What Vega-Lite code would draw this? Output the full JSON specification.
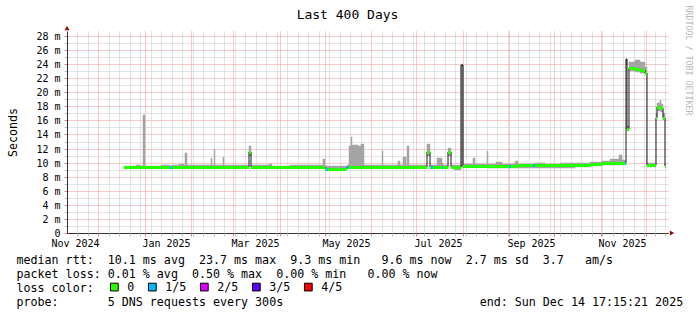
{
  "$schema": "https://vega.github.io/schema/vega-lite/v6.json",
  "width": 601,
  "height": 202,
  "autosize": {"type": "none"},
  "padding": {"left": 67, "top": 31, "right": 29, "bottom": 82},
  "background": "white",
  "config": {"view": {"stroke": null}, "font": "DejaVu Sans Mono"},
  "title": {"text": "Last 400 Days", "font": "DejaVu Sans Mono", "fontSize": 13, "fontWeight": "normal", "color": "#000000", "anchor": "middle", "frame": "group", "dx": -20, "offset": -27, "baseline": "alphabetic"},
  "data": {"values": [
    {"t":"2024-12-18T00:00","t2":"2024-12-22T00:00","med":9.33,"lo":9.2,"hi":9.58,"loss":"0"},
    {"t":"2024-12-22T00:00","t2":"2024-12-26T00:00","med":9.33,"lo":9.2,"hi":9.52,"loss":"0"},
    {"t":"2024-12-26T00:00","t2":"2024-12-29T00:00","med":9.33,"lo":9.2,"hi":9.68,"loss":"0"},
    {"t":"2024-12-29T00:00","t2":"2024-12-31T00:00","med":9.33,"lo":9.2,"hi":9.55,"loss":"0"},
    {"t":"2024-12-31T00:00","t2":"2025-01-01T08:00","med":9.36,"lo":9.2,"hi":16.8,"loss":"0"},
    {"t":"2025-01-01T08:00","t2":"2025-01-06T00:00","med":9.33,"lo":9.2,"hi":9.58,"loss":"0"},
    {"t":"2025-01-06T00:00","t2":"2025-01-12T00:00","med":9.33,"lo":9.2,"hi":9.55,"loss":"0"},
    {"t":"2025-01-12T00:00","t2":"2025-01-18T00:00","med":9.33,"lo":9.2,"hi":9.62,"loss":"0"},
    {"t":"2025-01-18T00:00","t2":"2025-01-19T00:00","med":9.33,"lo":9.2,"hi":9.55,"loss":"1/5"},
    {"t":"2025-01-19T00:00","t2":"2025-01-24T00:00","med":9.33,"lo":9.2,"hi":9.6,"loss":"0"},
    {"t":"2025-01-24T00:00","t2":"2025-01-27T00:00","med":9.35,"lo":9.2,"hi":9.85,"loss":"0"},
    {"t":"2025-01-27T00:00","t2":"2025-01-28T00:00","med":9.35,"lo":9.2,"hi":9.7,"loss":"0"},
    {"t":"2025-01-28T00:00","t2":"2025-01-29T08:00","med":9.38,"lo":9.2,"hi":11.3,"loss":"0"},
    {"t":"2025-01-29T08:00","t2":"2025-02-05T00:00","med":9.4,"lo":9.25,"hi":9.72,"loss":"0"},
    {"t":"2025-02-05T00:00","t2":"2025-02-14T00:00","med":9.4,"lo":9.25,"hi":9.68,"loss":"0"},
    {"t":"2025-02-14T00:00","t2":"2025-02-15T00:00","med":9.4,"lo":9.25,"hi":10.7,"loss":"0"},
    {"t":"2025-02-15T00:00","t2":"2025-02-16T00:00","med":9.4,"lo":9.25,"hi":9.7,"loss":"0"},
    {"t":"2025-02-16T00:00","t2":"2025-02-17T00:00","med":9.4,"lo":9.25,"hi":11.9,"loss":"0"},
    {"t":"2025-02-17T00:00","t2":"2025-02-22T00:00","med":9.4,"lo":9.25,"hi":9.7,"loss":"0"},
    {"t":"2025-02-22T00:00","t2":"2025-02-23T00:00","med":9.4,"lo":9.25,"hi":10.8,"loss":"0"},
    {"t":"2025-02-23T00:00","t2":"2025-03-04T00:00","med":9.38,"lo":9.25,"hi":9.7,"loss":"0"},
    {"t":"2025-03-04T00:00","t2":"2025-03-11T08:00","med":9.35,"lo":9.2,"hi":9.62,"loss":"0"},
    {"t":"2025-03-11T08:00","t2":"2025-03-12T16:00","med":11.55,"lo":11.0,"hi":12.4,"loss":"0"},
    {"t":"2025-03-12T16:00","t2":"2025-03-25T00:00","med":9.33,"lo":9.2,"hi":9.6,"loss":"0"},
    {"t":"2025-03-25T00:00","t2":"2025-03-27T00:00","med":9.33,"lo":9.2,"hi":9.8,"loss":"0"},
    {"t":"2025-03-27T00:00","t2":"2025-04-08T00:00","med":9.33,"lo":9.2,"hi":9.58,"loss":"0"},
    {"t":"2025-04-08T00:00","t2":"2025-04-14T00:00","med":9.33,"lo":9.2,"hi":9.7,"loss":"0"},
    {"t":"2025-04-14T00:00","t2":"2025-04-30T00:00","med":9.33,"lo":9.2,"hi":9.62,"loss":"0"},
    {"t":"2025-04-30T00:00","t2":"2025-05-01T00:00","med":9.33,"lo":9.2,"hi":10.5,"loss":"0"},
    {"t":"2025-05-01T00:00","t2":"2025-05-02T00:00","med":9.1,"lo":8.95,"hi":9.5,"loss":"0"},
    {"t":"2025-05-02T00:00","t2":"2025-05-03T00:00","med":9.1,"lo":8.95,"hi":9.5,"loss":"1/5"},
    {"t":"2025-05-03T00:00","t2":"2025-05-16T00:00","med":9.1,"lo":8.95,"hi":9.5,"loss":"0"},
    {"t":"2025-05-16T00:00","t2":"2025-05-17T00:00","med":9.42,"lo":9.3,"hi":9.6,"loss":"1/5"},
    {"t":"2025-05-17T00:00","t2":"2025-05-18T12:00","med":9.42,"lo":9.3,"hi":12.4,"loss":"0"},
    {"t":"2025-05-18T12:00","t2":"2025-05-19T12:00","med":9.42,"lo":9.3,"hi":13.7,"loss":"0"},
    {"t":"2025-05-19T12:00","t2":"2025-05-23T00:00","med":9.42,"lo":9.3,"hi":12.5,"loss":"0"},
    {"t":"2025-05-23T00:00","t2":"2025-05-25T00:00","med":9.42,"lo":9.3,"hi":12.35,"loss":"0"},
    {"t":"2025-05-25T00:00","t2":"2025-05-27T00:00","med":9.42,"lo":9.3,"hi":12.6,"loss":"0"},
    {"t":"2025-05-27T00:00","t2":"2025-06-08T00:00","med":9.42,"lo":9.3,"hi":9.65,"loss":"0"},
    {"t":"2025-06-08T00:00","t2":"2025-06-09T00:00","med":9.42,"lo":9.3,"hi":11.7,"loss":"0"},
    {"t":"2025-06-09T00:00","t2":"2025-06-19T00:00","med":9.42,"lo":9.3,"hi":9.65,"loss":"0"},
    {"t":"2025-06-19T00:00","t2":"2025-06-20T00:00","med":9.42,"lo":9.3,"hi":10.2,"loss":"0"},
    {"t":"2025-06-20T00:00","t2":"2025-06-22T00:00","med":9.42,"lo":9.3,"hi":9.7,"loss":"0"},
    {"t":"2025-06-22T00:00","t2":"2025-06-24T00:00","med":9.42,"lo":9.3,"hi":10.8,"loss":"0"},
    {"t":"2025-06-24T00:00","t2":"2025-06-25T00:00","med":9.42,"lo":9.3,"hi":9.7,"loss":"0"},
    {"t":"2025-06-25T00:00","t2":"2025-06-26T00:00","med":9.42,"lo":9.3,"hi":12.4,"loss":"0"},
    {"t":"2025-06-26T00:00","t2":"2025-07-08T00:00","med":9.4,"lo":9.25,"hi":9.7,"loss":"0"},
    {"t":"2025-07-08T00:00","t2":"2025-07-10T00:00","med":11.55,"lo":11.0,"hi":12.6,"loss":"0"},
    {"t":"2025-07-10T00:00","t2":"2025-07-11T00:00","med":9.42,"lo":9.3,"hi":9.7,"loss":"0"},
    {"t":"2025-07-11T00:00","t2":"2025-07-12T00:00","med":9.42,"lo":9.3,"hi":9.7,"loss":"1/5"},
    {"t":"2025-07-12T00:00","t2":"2025-07-15T00:00","med":9.42,"lo":9.3,"hi":9.7,"loss":"0"},
    {"t":"2025-07-15T00:00","t2":"2025-07-18T00:00","med":9.42,"lo":9.3,"hi":10.6,"loss":"0"},
    {"t":"2025-07-18T00:00","t2":"2025-07-19T00:00","med":9.42,"lo":9.3,"hi":10.0,"loss":"1/5"},
    {"t":"2025-07-19T00:00","t2":"2025-07-22T00:00","med":9.42,"lo":9.3,"hi":9.7,"loss":"0"},
    {"t":"2025-07-22T00:00","t2":"2025-07-24T12:00","med":11.46,"lo":11.0,"hi":12.1,"loss":"0"},
    {"t":"2025-07-24T12:00","t2":"2025-07-26T00:00","med":9.42,"lo":9.3,"hi":9.7,"loss":"0"},
    {"t":"2025-07-26T00:00","t2":"2025-07-31T00:00","med":9.42,"lo":8.95,"hi":9.7,"loss":"0"},
    {"t":"2025-07-31T00:00","t2":"2025-08-01T08:00","med":23.9,"lo":9.4,"hi":24.0,"loss":null},
    {"t":"2025-08-01T08:00","t2":"2025-08-08T00:00","med":9.56,"lo":9.35,"hi":9.8,"loss":"0"},
    {"t":"2025-08-08T00:00","t2":"2025-08-09T12:00","med":9.56,"lo":9.35,"hi":10.7,"loss":"0"},
    {"t":"2025-08-09T12:00","t2":"2025-08-17T00:00","med":9.56,"lo":9.35,"hi":9.8,"loss":"0"},
    {"t":"2025-08-17T00:00","t2":"2025-08-18T00:00","med":9.56,"lo":9.35,"hi":11.65,"loss":"0"},
    {"t":"2025-08-18T00:00","t2":"2025-08-23T00:00","med":9.56,"lo":9.3,"hi":9.85,"loss":"0"},
    {"t":"2025-08-23T00:00","t2":"2025-08-27T00:00","med":9.56,"lo":9.3,"hi":10.1,"loss":"0"},
    {"t":"2025-08-27T00:00","t2":"2025-09-01T00:00","med":9.56,"lo":9.3,"hi":9.8,"loss":"0"},
    {"t":"2025-09-01T00:00","t2":"2025-09-02T00:00","med":9.56,"lo":9.3,"hi":9.8,"loss":"1/5"},
    {"t":"2025-09-02T00:00","t2":"2025-09-05T00:00","med":9.56,"lo":9.3,"hi":9.8,"loss":"0"},
    {"t":"2025-09-05T00:00","t2":"2025-09-07T00:00","med":9.56,"lo":9.3,"hi":10.2,"loss":"0"},
    {"t":"2025-09-07T00:00","t2":"2025-09-17T00:00","med":9.6,"lo":9.3,"hi":9.85,"loss":"0"},
    {"t":"2025-09-17T00:00","t2":"2025-09-18T00:00","med":9.6,"lo":9.3,"hi":9.85,"loss":"1/5"},
    {"t":"2025-09-18T00:00","t2":"2025-09-25T00:00","med":9.6,"lo":9.2,"hi":9.9,"loss":"0"},
    {"t":"2025-09-25T00:00","t2":"2025-10-05T00:00","med":9.62,"lo":9.25,"hi":9.85,"loss":"0"},
    {"t":"2025-10-05T00:00","t2":"2025-10-15T00:00","med":9.65,"lo":9.3,"hi":9.9,"loss":"0"},
    {"t":"2025-10-15T00:00","t2":"2025-10-25T00:00","med":9.7,"lo":9.4,"hi":9.95,"loss":"0"},
    {"t":"2025-10-25T00:00","t2":"2025-11-02T00:00","med":9.8,"lo":9.5,"hi":10.05,"loss":"0"},
    {"t":"2025-11-02T00:00","t2":"2025-11-07T00:00","med":9.9,"lo":9.6,"hi":10.3,"loss":"0"},
    {"t":"2025-11-07T00:00","t2":"2025-11-13T00:00","med":10.0,"lo":9.7,"hi":10.5,"loss":"0"},
    {"t":"2025-11-13T00:00","t2":"2025-11-15T00:00","med":10.0,"lo":9.7,"hi":11.1,"loss":"0"},
    {"t":"2025-11-15T00:00","t2":"2025-11-17T00:00","med":9.95,"lo":9.7,"hi":10.4,"loss":"0"},
    {"t":"2025-11-17T00:00","t2":"2025-11-18T00:00","med":9.95,"lo":9.7,"hi":10.3,"loss":"1/5"},
    {"t":"2025-11-18T00:00","t2":"2025-11-18T16:00","med":24.7,"lo":23.8,"hi":24.7,"loss":null},
    {"t":"2025-11-18T16:00","t2":"2025-11-19T18:00","med":14.8,"lo":14.5,"hi":15.2,"loss":"0"},
    {"t":"2025-11-19T18:00","t2":"2025-11-24T00:00","med":23.5,"lo":23.0,"hi":24.3,"loss":"0"},
    {"t":"2025-11-24T00:00","t2":"2025-11-27T12:00","med":23.3,"lo":22.9,"hi":24.6,"loss":"0"},
    {"t":"2025-11-27T12:00","t2":"2025-11-30T18:00","med":23.2,"lo":22.8,"hi":24.3,"loss":"0"},
    {"t":"2025-11-30T18:00","t2":"2025-12-01T20:00","med":22.8,"lo":22.6,"hi":23.6,"loss":"0"},
    {"t":"2025-12-01T20:00","t2":"2025-12-07T18:00","med":9.6,"lo":9.4,"hi":10.0,"loss":"0"},
    {"t":"2025-12-07T18:00","t2":"2025-12-08T20:00","med":16.4,"lo":16.0,"hi":17.0,"loss":"0"},
    {"t":"2025-12-08T20:00","t2":"2025-12-10T08:00","med":17.85,"lo":17.3,"hi":18.4,"loss":"0"},
    {"t":"2025-12-10T08:00","t2":"2025-12-11T08:00","med":17.9,"lo":17.4,"hi":18.9,"loss":"0"},
    {"t":"2025-12-11T08:00","t2":"2025-12-12T20:00","med":17.8,"lo":17.2,"hi":18.3,"loss":"0"},
    {"t":"2025-12-12T20:00","t2":"2025-12-13T20:00","med":16.4,"lo":16.0,"hi":17.0,"loss":"0"},
    {"t":"2025-12-13T20:00","t2":"2025-12-14T17:00","med":9.5,"lo":9.3,"hi":9.8,"loss":"0"}
  ]},
  "resolve": {"axis": {"x": "independent", "y": "independent"}},
  "layer": [
    {
      "mark": {"type": "rect", "color": "#a4a4a4", "stroke": "#a4a4a4", "strokeWidth": 0.5},
      "encoding": {
        "x": {"field": "t", "type": "temporal",
          "scale": {"domain": [{"year":2024,"month":11,"date":10,"hours":8},{"year":2025,"month":12,"date":15,"hours":20}], "nice": false, "round": true},
          "axis": {
            "orient": "bottom",
            "values": [
              {"year":2024,"month":11,"date":15,"hours":12},{"year":2025,"month":1,"date":15,"hours":12},{"year":2025,"month":3,"date":15,"hours":12},{"year":2025,"month":5,"date":15,"hours":12},{"year":2025,"month":7,"date":15,"hours":12},{"year":2025,"month":9,"date":15,"hours":12},{"year":2025,"month":11,"date":15,"hours":12}
            ],
            "format": "%b %Y",
            "labelFont": "DejaVu Sans Mono", "labelFontSize": 10, "labelColor": "#000000", "labelPadding": 5.5,
            "labelOverlap": false, "labelFlush": false, "labelBound": false, "labelAngle": 0,
            "grid": false, "ticks": false,
            "domainColor": "#303030",
            "title": [
              "median rtt:\u00a0\u00a010.1 ms avg\u00a0\u00a023.7 ms max\u00a0\u00a09.3 ms min\u00a0\u00a0\u00a09.6 ms now\u00a0\u00a02.7 ms sd\u00a0\u00a03.7\u00a0\u00a0\u00a0am/s",
              "packet loss: 0.01 % avg\u00a0\u00a00.50 % max\u00a0\u00a00.00 % min\u00a0\u00a0\u00a00.00 % now",
              "loss color:",
              "probe:\u00a0\u00a0\u00a0\u00a0\u00a0\u00a0\u00a05 DNS requests every 300s\u00a0\u00a0\u00a0\u00a0\u00a0\u00a0\u00a0\u00a0\u00a0\u00a0\u00a0\u00a0\u00a0\u00a0\u00a0\u00a0\u00a0\u00a0\u00a0\u00a0\u00a0\u00a0\u00a0\u00a0\u00a0\u00a0\u00a0\u00a0end: Sun Dec 14 17:15:21 2025"
            ],
            "titleFont": "DejaVu Sans Mono", "titleFontSize": 11.67, "titleFontWeight": "normal", "titleColor": "#000000",
            "titleAlign": "left", "titleBaseline": "alphabetic", "titleX": -51, "titleY": 30.3, "titleLineHeight": 14
          }
        },
        "x2": {"field": "t2"},
        "y": {"field": "lo", "type": "quantitative",
          "scale": {"domain": [0, 28.7], "nice": false, "zero": false, "round": true},
          "axis": {
            "orient": "left",
            "values": [0,1,2,3,4,5,6,7,8,9,10,11,12,13,14,15,16,17,18,19,20,21,22,23,24,25,26,27,28],
            "labelExpr": "datum.value==0 ? '0' : (datum.value % 2 == 0 ? datum.value + ' m' : '')",
            "labelFont": "DejaVu Sans Mono", "labelFontSize": 10, "labelColor": "#000000", "labelPadding": 4,
            "labelOverlap": false, "labelFlush": false, "labelBound": false,
            "grid": true,
            "gridColor": {"condition": {"test": "datum.value % 2 == 0", "value": "#e89898"}, "value": "#c8c8c8"},
            "gridDash": [1, 1],
            "ticks": true, "tickSize": 3,
            "tickColor": {"condition": {"test": "datum.value % 2 == 0", "value": "#e08080"}, "value": "#c0c0c0"},
            "domainColor": "#303030",
            "title": "Seconds",
            "titleFont": "DejaVu Sans Mono", "titleFontSize": 11.67, "titleFontWeight": "normal", "titleColor": "#000000",
            "titleAngle": -90, "titleX": -55, "titleY": 101, "titleAlign": "center", "titleBaseline": "middle"
          }
        },
        "y2": {"field": "hi"}
      }
    },
    {
      "mark": {"type": "line", "interpolate": "step-after", "color": "#1a1a1a", "strokeWidth": 1},
      "encoding": {
        "x": {"field": "t", "type": "temporal",
          "scale": {"domain": [{"year":2024,"month":11,"date":10,"hours":8},{"year":2025,"month":12,"date":15,"hours":20}], "nice": false, "round": true},
          "axis": {
            "orient": "bottom",
            "values": [
              {"year":2024,"month":11,"date":17},{"year":2024,"month":11,"date":24},{"year":2024,"month":12,"date":1},{"year":2024,"month":12,"date":8},{"year":2024,"month":12,"date":15},{"year":2024,"month":12,"date":22},{"year":2024,"month":12,"date":29},
              {"year":2025,"month":1,"date":1},{"year":2025,"month":1,"date":5},{"year":2025,"month":1,"date":12},{"year":2025,"month":1,"date":19},{"year":2025,"month":1,"date":26},
              {"year":2025,"month":2,"date":1},{"year":2025,"month":2,"date":2},{"year":2025,"month":2,"date":9},{"year":2025,"month":2,"date":16},{"year":2025,"month":2,"date":23},
              {"year":2025,"month":3,"date":1},{"year":2025,"month":3,"date":2},{"year":2025,"month":3,"date":9},{"year":2025,"month":3,"date":16},{"year":2025,"month":3,"date":23},{"year":2025,"month":3,"date":30},
              {"year":2025,"month":4,"date":1},{"year":2025,"month":4,"date":6},{"year":2025,"month":4,"date":13},{"year":2025,"month":4,"date":20},{"year":2025,"month":4,"date":27},
              {"year":2025,"month":5,"date":1},{"year":2025,"month":5,"date":4},{"year":2025,"month":5,"date":11},{"year":2025,"month":5,"date":18},{"year":2025,"month":5,"date":25},
              {"year":2025,"month":6,"date":1},{"year":2025,"month":6,"date":8},{"year":2025,"month":6,"date":15},{"year":2025,"month":6,"date":22},{"year":2025,"month":6,"date":29},
              {"year":2025,"month":7,"date":1},{"year":2025,"month":7,"date":6},{"year":2025,"month":7,"date":13},{"year":2025,"month":7,"date":20},{"year":2025,"month":7,"date":27},
              {"year":2025,"month":8,"date":1},{"year":2025,"month":8,"date":3},{"year":2025,"month":8,"date":10},{"year":2025,"month":8,"date":17},{"year":2025,"month":8,"date":24},{"year":2025,"month":8,"date":31},
              {"year":2025,"month":9,"date":1},{"year":2025,"month":9,"date":7},{"year":2025,"month":9,"date":14},{"year":2025,"month":9,"date":21},{"year":2025,"month":9,"date":28},
              {"year":2025,"month":10,"date":1},{"year":2025,"month":10,"date":5},{"year":2025,"month":10,"date":12},{"year":2025,"month":10,"date":19},{"year":2025,"month":10,"date":26},
              {"year":2025,"month":11,"date":1},{"year":2025,"month":11,"date":2},{"year":2025,"month":11,"date":9},{"year":2025,"month":11,"date":16},{"year":2025,"month":11,"date":23},{"year":2025,"month":11,"date":30},
              {"year":2025,"month":12,"date":1},{"year":2025,"month":12,"date":7},{"year":2025,"month":12,"date":14}
            ],
            "labels": false, "domain": false, "title": null,
            "grid": true,
            "gridColor": {"condition": {"test": "date(datum.value)==1", "value": "#e89898"}, "value": "#c8c8c8"},
            "gridDash": [1, 1],
            "ticks": true, "tickSize": 3,
            "tickColor": {"condition": {"test": "date(datum.value)==1", "value": "#e08080"}, "value": "#c0c0c0"}
          }
        },
        "y": {"field": "med", "type": "quantitative",
          "scale": {"domain": [0, 28.7], "nice": false, "zero": false, "round": true},
          "axis": {
            "orient": "right", "labels": false, "ticks": false, "domain": false, "grid": false,
            "title": "RRDTOOL / TOBI OETIKER",
            "titleFont": "DejaVu Sans Mono", "titleFontSize": 8.3, "titleFontWeight": "normal", "titleColor": "#b8b8b8",
            "titleAngle": 90, "titleX": 19, "titleY": -26, "titleAlign": "left", "titleBaseline": "middle"
          }
        }
      }
    },
    {
      "transform": [{"filter": "isValid(datum.loss)"}],
      "mark": {"type": "rect", "yOffset": -1, "y2Offset": 2},
      "encoding": {
        "x": {"field": "t", "type": "temporal",
          "scale": {"domain": [{"year":2024,"month":11,"date":10,"hours":8},{"year":2025,"month":12,"date":15,"hours":20}], "nice": false, "round": true},
          "axis": null},
        "x2": {"field": "t2"},
        "y": {"field": "med", "type": "quantitative",
          "scale": {"domain": [0, 28.7], "nice": false, "zero": false, "round": true},
          "axis": null},
        "y2": {"field": "med"},
        "color": {"field": "loss", "type": "nominal",
          "scale": {"domain": ["0", "1/5", "2/5", "3/5", "4/5"], "range": ["#26ff00", "#00b8ff", "#dd00ff", "#5e00ff", "#ff0000"]},
          "legend": {
            "orient": "none", "legendX": 41.5, "legendY": 250, "direction": "horizontal", "title": null,
            "symbolType": "square", "symbolSize": 60, "symbolStrokeColor": "#000000", "symbolStrokeWidth": 1, "symbolOpacity": 1,
            "labelFont": "DejaVu Sans Mono", "labelFontSize": 11.67, "labelColor": "#000000", "labelOffset": 7,
            "columnPadding": 11, "padding": 0, "offset": 0
          }
        }
      }
    },
    {
      "data": {"values": [{}]},
      "mark": {"type": "point", "shape": "triangle-up", "filled": true, "color": "#8b1010", "size": 25, "opacity": 1},
      "encoding": {
        "x": {"datum": {"year":2024,"month":11,"date":10,"hours":8}, "type": "temporal",
          "scale": {"domain": [{"year":2024,"month":11,"date":10,"hours":8},{"year":2025,"month":12,"date":15,"hours":20}], "nice": false, "round": true},
          "axis": null},
        "y": {"datum": 29.1, "type": "quantitative",
          "scale": {"domain": [0, 28.7], "nice": false, "zero": false, "round": true},
          "axis": null}
      }
    },
    {
      "data": {"values": [{}]},
      "mark": {"type": "point", "shape": "triangle-right", "filled": true, "color": "#8b1010", "size": 25, "opacity": 1},
      "encoding": {
        "x": {"datum": {"year":2025,"month":12,"date":18,"hours":12}, "type": "temporal",
          "scale": {"domain": [{"year":2024,"month":11,"date":10,"hours":8},{"year":2025,"month":12,"date":15,"hours":20}], "nice": false, "round": true},
          "axis": null},
        "y": {"datum": 0, "type": "quantitative",
          "scale": {"domain": [0, 28.7], "nice": false, "zero": false, "round": true},
          "axis": null}
      }
    }
  ]
}
